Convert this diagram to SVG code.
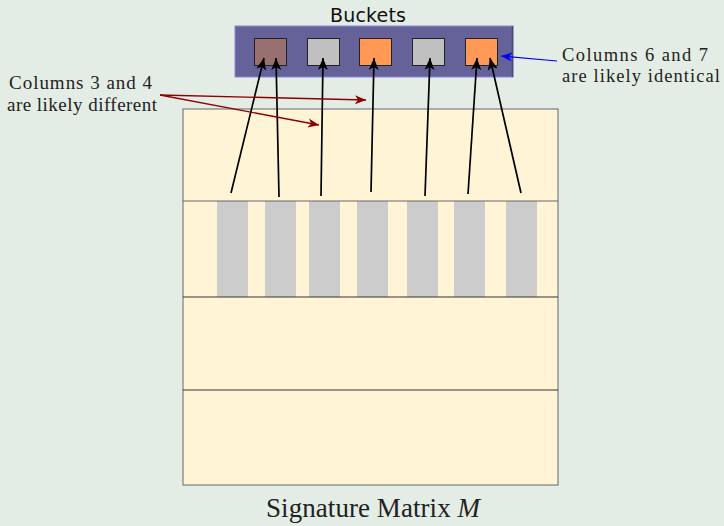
<svg xmlns="http://www.w3.org/2000/svg" width="724" height="526" viewBox="0 0 724 526">
<defs>
<style>
.serif{font-family:"Liberation Serif","Times New Roman",serif;fill:#222;}
.bk{stroke:#222;stroke-width:1;}
.col{fill:#cccccc;}
.ar{fill:none;stroke:#000;stroke-width:1.7;marker-end:url(#ahK);}
.red{fill:none;stroke:#8b0000;stroke-width:1.4;marker-end:url(#ahR);}
.blue{fill:none;stroke:#0000ff;stroke-width:1.2;marker-end:url(#ahB);}
</style>
<marker id="ahK" markerUnits="userSpaceOnUse" markerWidth="14" markerHeight="12" refX="12" refY="5" orient="auto" viewBox="0 0 14 10"><path d="M0,0 L12,5 L0,10 L3,5 Z" fill="#000"/></marker>
<marker id="ahR" markerUnits="userSpaceOnUse" markerWidth="12" markerHeight="10" refX="11" refY="4.5" orient="auto" viewBox="0 0 12 9"><path d="M0,0 L11,4.5 L0,9 L3,4.5 Z" fill="#8b0000"/></marker>
<marker id="ahB" markerUnits="userSpaceOnUse" markerWidth="12" markerHeight="10" refX="11" refY="4.5" orient="auto" viewBox="0 0 12 9"><path d="M0,0 L11,4.5 L0,9 L3,4.5 Z" fill="#0000ff"/></marker>
</defs>
<rect x="0" y="0" width="724" height="526" fill="#e4ede5"/>

<g id="matrix">
<rect x="183" y="109" width="375" height="376" fill="#fff5d6" stroke="#666" stroke-width="1"/>
<rect class="col" x="217" y="201" width="31" height="96"/>
<rect class="col" x="265" y="201" width="31" height="96"/>
<rect class="col" x="309" y="201" width="31" height="96"/>
<rect class="col" x="357" y="201" width="31" height="96"/>
<rect class="col" x="407" y="201" width="31" height="96"/>
<rect class="col" x="454" y="201" width="31" height="96"/>
<rect class="col" x="506" y="201" width="31" height="96"/>
<line x1="183" y1="201" x2="558" y2="201" stroke="#666" stroke-width="1.2"/>
<line x1="183" y1="297" x2="558" y2="297" stroke="#333" stroke-width="1.2"/>
<line x1="183" y1="390" x2="558" y2="390" stroke="#333" stroke-width="1.2"/>
<text class="serif" x="266" y="517" font-size="27" textLength="214">Signature Matrix <tspan font-style="italic">M</tspan></text>
</g>

<g id="buckets">
<rect x="235" y="26" width="278" height="51" fill="#65629a" stroke="#8a88d8" stroke-width="1"/>
<line x1="512.5" y1="26" x2="512.5" y2="77" stroke="#4a4878" stroke-width="1.5"/>
<rect class="bk" x="254.5" y="38.5" width="32" height="27" fill="#977070"/>
<rect class="bk" x="307.5" y="38.5" width="32" height="27" fill="#c0c0c0"/>
<rect class="bk" x="359.5" y="38.5" width="32" height="27" fill="#ff9955"/>
<rect class="bk" x="412.5" y="38.5" width="32" height="27" fill="#c0c0c0"/>
<rect class="bk" x="465.5" y="38.5" width="32" height="27" fill="#ff9955"/>
<text x="330" y="22" font-family="DejaVu Sans, sans-serif" font-size="19" fill="#111" textLength="76">Buckets</text>
</g>

<g id="label-left">
<text class="serif" x="9" y="89" font-size="19" textLength="143">Columns 3 and 4</text>
<text class="serif" x="7" y="111" font-size="19" textLength="150">are likely different</text>
</g>

<g id="label-right">
<text class="serif" x="562" y="61" font-size="18.5" textLength="146">Columns 6 and 7</text>
<text class="serif" x="562" y="82" font-size="18.5" textLength="158">are likely identical</text>
</g>

<g id="connectors">
<line class="ar" x1="231" y1="193" x2="264" y2="58"/>
<line class="ar" x1="279" y1="197" x2="276" y2="58"/>
<line class="ar" x1="321" y1="196" x2="323" y2="58"/>
<line class="ar" x1="371" y1="192" x2="374" y2="58"/>
<line class="ar" x1="425" y1="196" x2="430" y2="58"/>
<line class="ar" x1="468" y1="194" x2="477" y2="58"/>
<line class="ar" x1="521" y1="193" x2="490" y2="58"/>
<line class="red" x1="160" y1="95" x2="366" y2="100"/>
<line class="red" x1="160" y1="95" x2="319" y2="125"/>
<line class="blue" x1="557" y1="61" x2="501" y2="56"/>
</g>
</svg>
